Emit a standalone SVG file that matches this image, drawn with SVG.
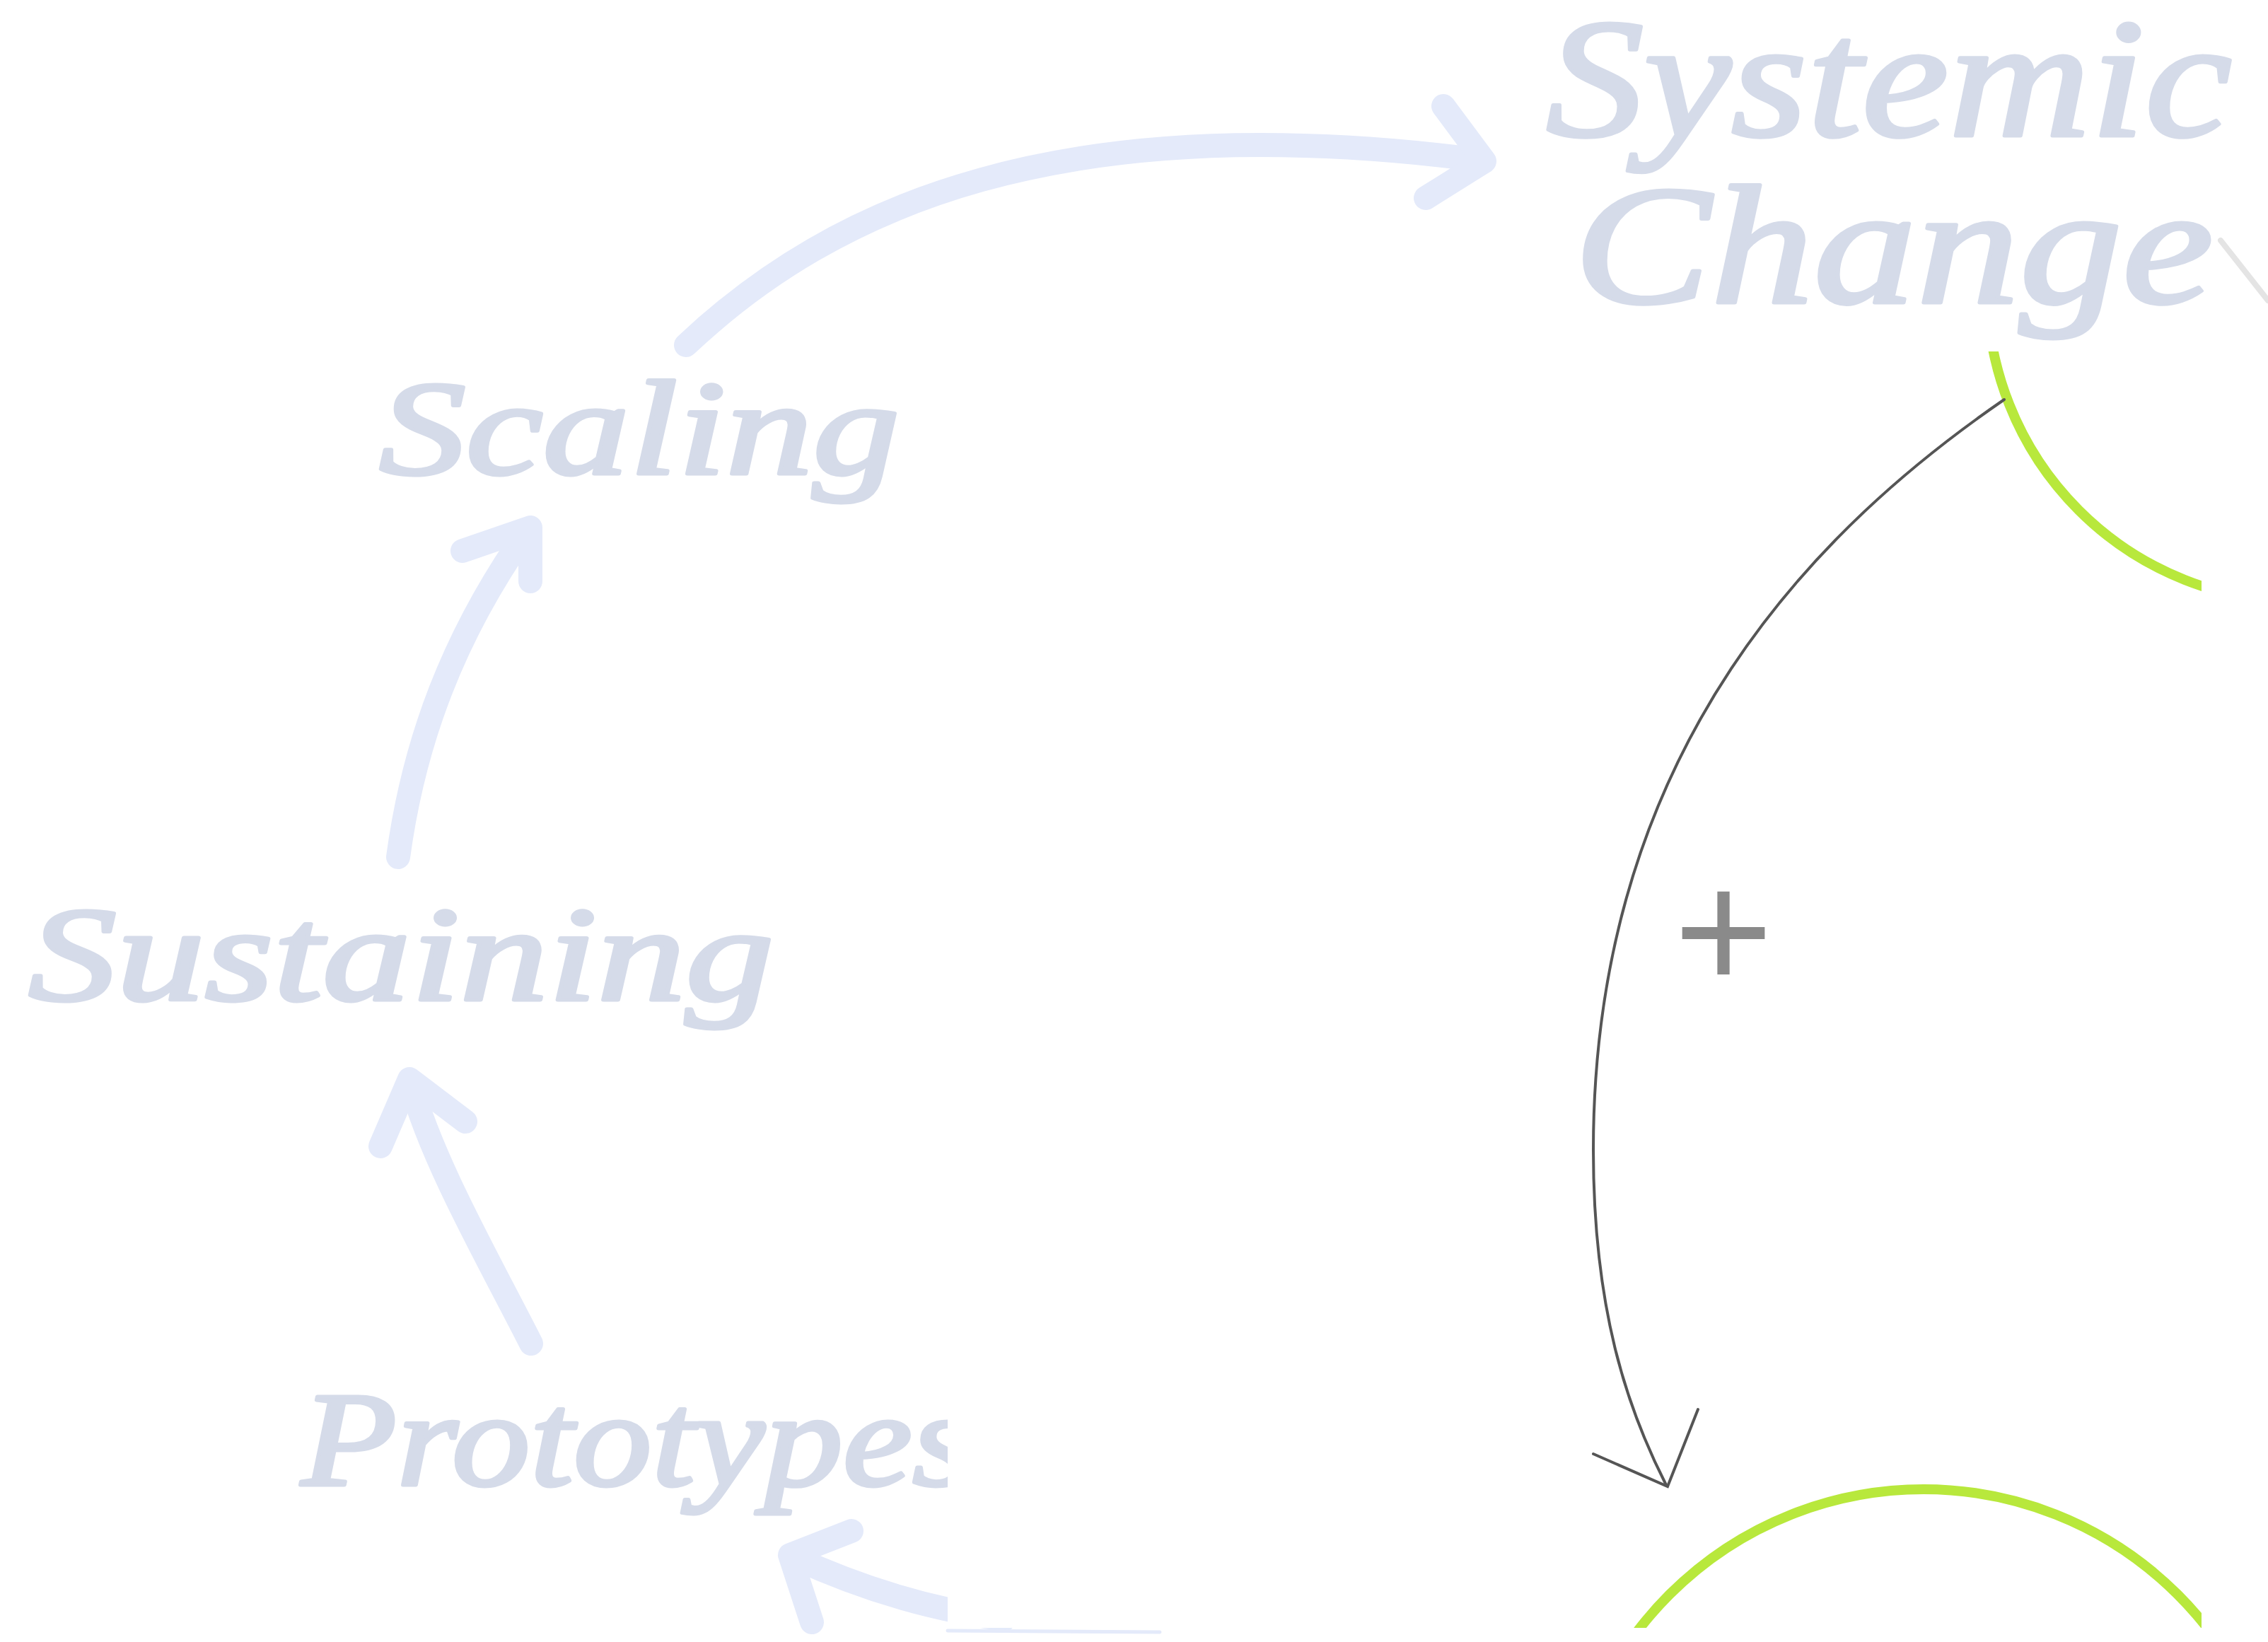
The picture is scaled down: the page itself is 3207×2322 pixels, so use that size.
<svg xmlns="http://www.w3.org/2000/svg" width="3207" height="2322" viewBox="0 0 3207 2322">
<style>
.lbl{font-family:"Liberation Serif","DejaVu Serif",serif;font-style:italic;fill:#d5dbe9;stroke:#d5dbe9;stroke-width:5;stroke-linejoin:round;}
.big{font-size:240px;}
.mid{font-size:190px;}
.flow{fill:none;stroke:#e4eafa;stroke-width:34;stroke-linecap:round;stroke-linejoin:round;}
.link{fill:none;stroke:#555555;stroke-width:4;stroke-linecap:round;stroke-linejoin:miter;}
.ring{fill:none;stroke:#b8e83c;stroke-width:14;}
.sign{font-family:"Liberation Sans",Arial,sans-serif;font-size:240px;fill:#8a8a8a;}
</style>
<defs>
<clipPath id="panel"><rect x="1340" y="497" width="1773" height="1805"/></clipPath>
</defs>
<rect width="3207" height="2322" fill="#ffffff"/>
<g id="connectors">
<g id="flow-scaling-systemic">
<path class="flow" d="M970 488 C1180 290 1500 150 2090 226"/>
<path class="flow" d="M2041 150 L2099 228 L2016 280"/>
</g>
<g id="flow-sustaining-scaling">
<path class="flow" d="M563 1212 C585 1050 640 900 746 750"/>
<path class="flow" d="M654 779 L750 746 L750 822"/>
</g>
<g id="flow-prototypes-sustaining">
<path class="flow" d="M751 1900 C690 1780 610 1640 581 1532"/>
<path class="flow" d="M538 1621 L579 1526 L658 1586"/>
</g>
<g id="flow-bottom-prototypes">
<path class="flow" d="M1420 2290 C1330 2278 1230 2252 1122 2202"/>
<path class="flow" d="M1204 2165 L1117 2199 L1148 2294"/>
<line x1="1340" y1="2306" x2="1640" y2="2308" stroke="#e4eafa" stroke-width="5" stroke-linecap="round"/>
</g>
<line x1="3140" y1="340" x2="3207" y2="425" stroke="#e4e4e4" stroke-width="8" stroke-linecap="round"/>
</g>
<g id="node-systemic-change">
<text class="lbl big" x="2186" y="192" textLength="970" lengthAdjust="spacingAndGlyphs">Systemic</text>
<text class="lbl big" x="2225" y="428" textLength="905" lengthAdjust="spacingAndGlyphs">Change</text>
</g>
<g id="node-scaling">
<text class="lbl mid" x="536" y="670" textLength="736" lengthAdjust="spacingAndGlyphs">Scaling</text>
</g>
<g id="node-sustaining">
<text class="lbl mid" x="40" y="1414" textLength="1054" lengthAdjust="spacingAndGlyphs">Sustaining</text>
</g>
<g id="node-prototypes">
<text class="lbl mid" x="426" y="2100" textLength="950" lengthAdjust="spacingAndGlyphs">Prototypes</text>
</g>
<rect id="panel-bg" x="1340" y="497" width="1773" height="1805" fill="#ffffff"/>
<g id="loop-panel" clip-path="url(#panel)">
<g id="node-top-ring"><circle class="ring" cx="3252" cy="409" r="442"/></g>
<g id="node-bottom-ring"><circle class="ring" cx="2720" cy="2614" r="508"/></g>
<g id="link-positive">
<path class="link" d="M2834 565 C2580 740 2253 1050 2253 1626 C2253 1850 2300 1990 2356 2100"/>
<path class="link" d="M2253 2056 L2358 2102 L2401 1993"/>
<text class="sign" x="2437" y="1399" text-anchor="middle">+</text>
</g>
</g>
</svg>
